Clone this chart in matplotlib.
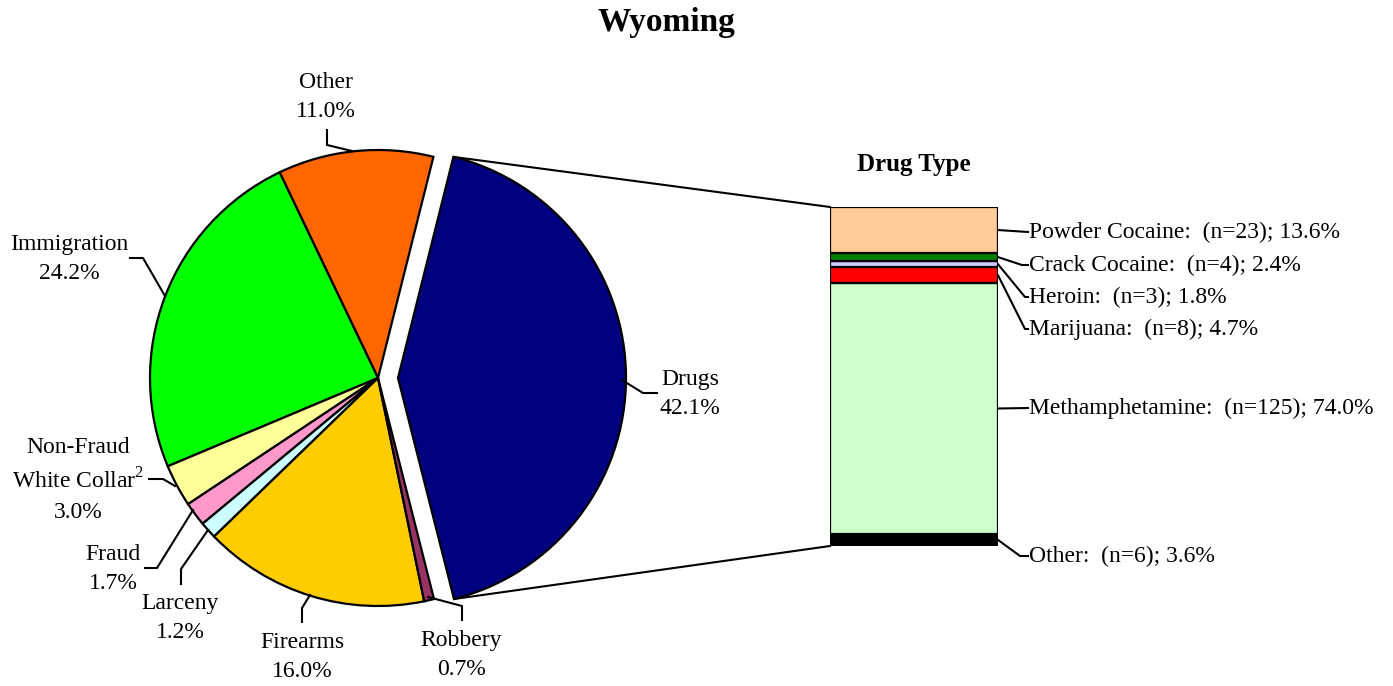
import numpy as np
import matplotlib
matplotlib.use('Agg')
import matplotlib.pyplot as plt

plt.rcParams['font.family'] = ['Liberation Serif', 'DejaVu Serif']
plt.rcParams['mathtext.fontset'] = 'custom'
plt.rcParams['mathtext.rm'] = 'Liberation Serif'

W, H = 1393, 686

# offense categories, counterclockwise starting with Drugs
categories = ['Drugs', 'Other', 'Immigration', 'Non-Fraud\nWhite Collar$^{\\mathrm{2}}$',
              'Fraud', 'Larceny', 'Firearms', 'Robbery']
shares = [42.1, 11.0, 24.2, 3.0, 1.7, 1.2, 16.0, 0.7]
pie_colors = ['#000080', '#FF6600', '#00FF00', '#FFFF99',
              '#FF99CC', '#CCFFFF', '#FFCC00', '#993366']

# drug type breakdown, top to bottom
drug_types = ['Powder Cocaine', 'Crack Cocaine', 'Heroin', 'Marijuana',
              'Methamphetamine', 'Other']
drug_counts = [23, 4, 3, 8, 125, 6]
drug_shares = [13.6, 2.4, 1.8, 4.7, 74.0, 3.6]
drug_colors = ['#FFCC99', '#008000', '#CCCCFF', '#FF0000', '#CCFFCC', '#000000']

# layout (pixel coords, y measured from top)
pie_cx, pie_cy, pie_r, pop = 378, 378, 228, 20
bar_box = (830, 207, 998, 546)

label_pos = [(690, 394), (326, 97), (69, 259), (78, 480),
             (113, 569), (180, 618), (302, 657), (461, 655)]
leaders = [
    [(657, 393), (643, 393), (622, 380)],
    [(327, 130), (327, 145), (352, 151)],
    [(130, 258), (143, 258), (165, 296)],
    [(149, 479), (163, 479), (175, 486)],
    [(145, 568), (157, 568), (193, 510)],
    [(181, 584), (181, 569), (208, 530)],
    [(302, 622), (302, 608), (310, 595)],
    [(462, 620), (462, 606), (428, 597)],
]
drug_label_y = [232, 265, 297, 329, 408, 556]
drug_elbow = [None, (1022, 265), (1025, 297), (1025, 329), None, (1020, 556)]


def Y(py):
    return H - py


fig = plt.figure(figsize=(W / 100, H / 100), dpi=100)
ax = fig.add_axes([0, 0, 1, 1])

explode = [pop] + [0] * (len(shares) - 1)
start = -shares[0] * 3.6 / 2
ax.pie(shares, colors=pie_colors, explode=explode, startangle=start,
       center=(pie_cx, Y(pie_cy)), radius=pie_r, counterclock=True,
       wedgeprops=dict(edgecolor='black', linewidth=1.6))
ax.set_xlim(0, W)
ax.set_ylim(0, H)
ax.set_aspect('equal')
ax.axis('off')

for cat, val, (tx, ty), pts in zip(categories, shares, label_pos, leaders):
    ax.text(tx, Y(ty), f'{cat}\n{val:.1f}%', ha='center', va='center',
            fontsize=17, linespacing=1.5)
    xs, ys = zip(*pts)
    ax.plot(xs, [Y(v) for v in ys], color='black', lw=1.5)

ax.text(666, Y(23), 'Wyoming', ha='center', va='center', fontsize=24,
        fontweight='bold')
ax.text(914, Y(165), 'Drug Type', ha='center', va='center', fontsize=18,
        fontweight='bold')

# stacked bar for drug types
x0, y0, x1, y1 = bar_box
ax2 = fig.add_axes([x0 / W, (H - y1) / H, (x1 - x0) / W, (y1 - y0) / H])
total = sum(drug_shares)
vals = drug_shares[::-1]
cols = drug_colors[::-1]
bottoms = np.concatenate([[0], np.cumsum(vals)[:-1]])
ax2.bar(0, vals, bottom=bottoms, color=cols, width=1, edgecolor='black',
        linewidth=1.6)
ax2.set_xlim(-0.5, 0.5)
ax2.set_ylim(0, total)
ax2.axis('off')

mids = (bottoms + np.array(vals) / 2)[::-1]
inv = ax.transData.inverted()
for name, n, pct, ly, mid, elbow in zip(drug_types, drug_counts, drug_shares,
                                        drug_label_y, mids, drug_elbow):
    sx, sy = inv.transform(ax2.transData.transform((0.5, mid)))
    pts = [(sx, sy)]
    if elbow is not None:
        pts.append((elbow[0], Y(elbow[1])))
    pts.append((1028, Y(ly)))
    xs, ys = zip(*pts)
    ax.plot(xs, ys, color='black', lw=1.5)
    ax.text(1029, Y(ly), f'{name}:  (n={n}); {pct:.1f}%', ha='left',
            va='center', fontsize=17)

# lines joining the popped slice to the bar
a = np.deg2rad(-start)
ex = pie_cx + pop
for sgn in (1, -1):
    px = ex + pie_r * np.cos(a)
    py = Y(pie_cy) + sgn * pie_r * np.sin(a)
    bx, by = inv.transform(ax2.transAxes.transform((0, 1 if sgn > 0 else 0)))
    ax.plot([px, bx], [py, by], color='black', lw=1.5)

fig.savefig('out.png', dpi=100)
